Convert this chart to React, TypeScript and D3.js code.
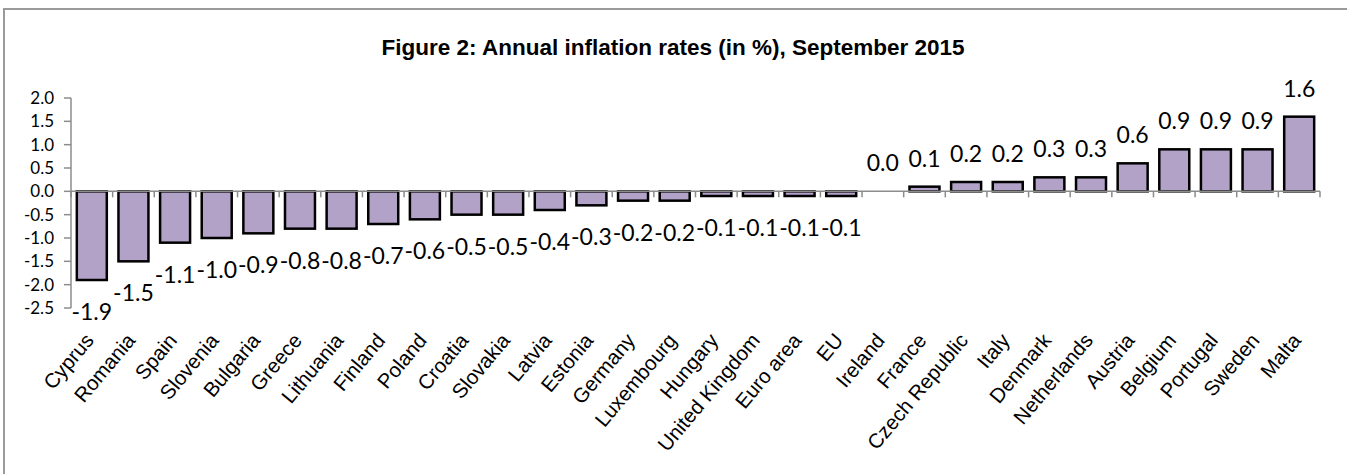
import React, { useEffect, useRef } from 'react';
import * as d3 from 'd3';

// Annual inflation rates (in %), September 2015
const countries = [
  'Cyprus', 'Romania', 'Spain', 'Slovenia', 'Bulgaria', 'Greece', 'Lithuania', 'Finland',
  'Poland', 'Croatia', 'Slovakia', 'Latvia', 'Estonia', 'Germany', 'Luxembourg', 'Hungary',
  'United Kingdom', 'Euro area', 'EU', 'Ireland', 'France', 'Czech Republic', 'Italy',
  'Denmark', 'Netherlands', 'Austria', 'Belgium', 'Portugal', 'Sweden', 'Malta',
];
const rates = [
  -1.9, -1.5, -1.1, -1.0, -0.9, -0.8, -0.8, -0.7,
  -0.6, -0.5, -0.5, -0.4, -0.3, -0.2, -0.2, -0.1,
  -0.1, -0.1, -0.1, 0.0, 0.1, 0.2, 0.2,
  0.3, 0.3, 0.6, 0.9, 0.9, 0.9, 1.6,
];
const yTicks = [2.0, 1.5, 1.0, 0.5, 0.0, -0.5, -1.0, -1.5, -2.0, -2.5];
const title = 'Figure 2: Annual inflation rates (in %), September 2015';

const W = 1347;
const H = 474;

const App: React.FC = () => {
  const svgRef = useRef<SVGSVGElement>(null);

  useEffect(() => {
    if (!svgRef.current) return;
    const svg = d3.select(svgRef.current);
    svg.selectAll('*').remove();

    const left = 71;
    const right = 1320;
    const top = 98;
    const bottom = 308;

    // frame
    svg.append('rect')
      .attr('x', 4).attr('y', 9)
      .attr('width', W + 10).attr('height', H + 10)
      .attr('fill', 'white')
      .attr('stroke', '#9a9a9a')
      .attr('stroke-width', 2);

    svg.append('text')
      .attr('x', 673).attr('y', 55)
      .attr('text-anchor', 'middle')
      .style('font-family', '"Liberation Sans", Arial, sans-serif')
      .style('font-weight', 'bold')
      .style('font-size', '22.5px')
      .text(title);

    const x = d3.scaleBand<string>()
      .domain(countries)
      .range([left, right])
      .paddingInner(0.28)
      .paddingOuter(0.14);

    const y = d3.scaleLinear()
      .domain([-2.5, 2.0])
      .range([bottom, top]);

    // y axis
    const yAxis = svg.append('g');
    yAxis.append('line')
      .attr('x1', left).attr('x2', left)
      .attr('y1', y(2.0)).attr('y2', y(-2.5))
      .attr('stroke', '#8c8c8c').attr('stroke-width', 1.5);
    yAxis.selectAll('line.tick')
      .data(yTicks)
      .enter()
      .append('line')
      .attr('class', 'tick')
      .attr('x1', left - 7).attr('x2', left)
      .attr('y1', d => y(d)).attr('y2', d => y(d))
      .attr('stroke', '#8c8c8c').attr('stroke-width', 1.5);
    yAxis.selectAll('text')
      .data(yTicks)
      .enter()
      .append('text')
      .attr('x', left - 17)
      .attr('y', d => y(d))
      .attr('dy', '0.35em')
      .attr('text-anchor', 'end')
      .style('font-family', 'Lato, "Open Sans", sans-serif')
      .style('font-size', '17px')
      .text(d => d.toFixed(1));

    // bars
    svg.selectAll('rect.bar')
      .data(rates)
      .enter()
      .append('rect')
      .attr('class', 'bar')
      .attr('x', (_, i) => x(countries[i])!)
      .attr('width', x.bandwidth())
      .attr('y', d => y(Math.max(0, d)))
      .attr('height', d => Math.abs(y(d) - y(0)))
      .attr('fill', '#b3a2c7')
      .attr('stroke', '#000')
      .attr('stroke-width', 2.5);

    // x axis at zero
    const step = (right - left) / countries.length;
    svg.append('line')
      .attr('x1', left).attr('x2', right)
      .attr('y1', y(0)).attr('y2', y(0))
      .attr('stroke', '#8c8c8c').attr('stroke-width', 1.5);
    svg.selectAll('line.xtick')
      .data(d3.range(countries.length + 1))
      .enter()
      .append('line')
      .attr('class', 'xtick')
      .attr('x1', i => left + i * step).attr('x2', i => left + i * step)
      .attr('y1', y(0)).attr('y2', y(0) + 6)
      .attr('stroke', '#8c8c8c').attr('stroke-width', 1.5);

    // value labels
    svg.selectAll('text.val')
      .data(rates)
      .enter()
      .append('text')
      .attr('class', 'val')
      .attr('x', (_, i) => x(countries[i])! + x.bandwidth() / 2)
      .attr('y', d => (d < 0 ? y(d) + 40 : y(d) - 20))
      .attr('text-anchor', 'middle')
      .style('font-family', 'Lato, "Open Sans", sans-serif')
      .style('font-size', '23px')
      .text(d => d.toFixed(1));

    // category labels
    svg.selectAll('text.cat')
      .data(countries)
      .enter()
      .append('text')
      .attr('class', 'cat')
      .attr('transform', d => `translate(${x(d)! + x.bandwidth() / 2 + 3},${341}) rotate(-50)`)
      .attr('text-anchor', 'end')
      .style('font-family', '"Liberation Sans", Arial, sans-serif')
      .style('font-size', '20.5px')
      .text(d => d);
  }, []);

  return (
    <svg
      ref={svgRef}
      width={W}
      height={H}
      style={{ position: 'absolute', left: 0, top: 0, background: 'white' }}
    />
  );
};

export default App;
